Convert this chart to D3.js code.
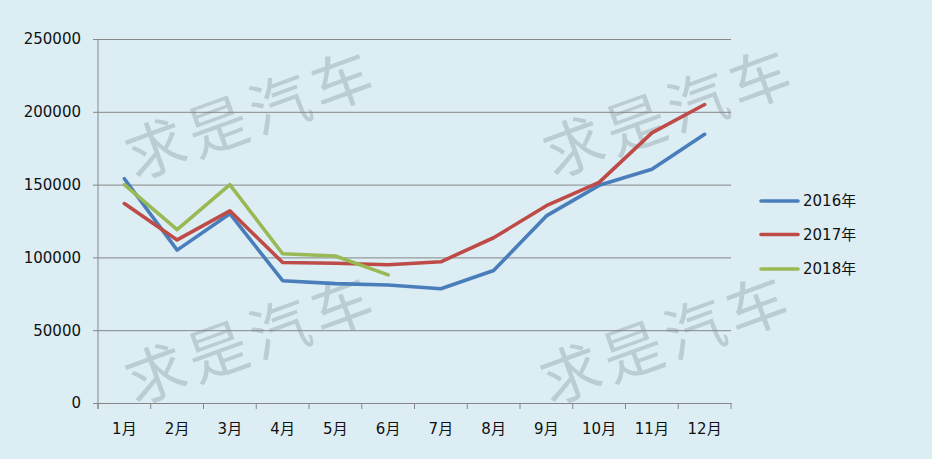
<!DOCTYPE html>
<html>
<head>
<meta charset="utf-8">
<script src="https://cdn.jsdelivr.net/npm/d3@7"></script>
<style>
  html, body { margin: 0; padding: 0; background: #DCEEF4; }
  svg { display: block; }
</style>
</head>
<body>
<svg id="chart" width="932" height="459"></svg>
<script>
const months = ["1月","2月","3月","4月","5月","6月","7月","8月","9月","10月","11月","12月"];
const seriesNames = ["2016年","2017年","2018年"];
const values2016 = [154000, 105000, 130000, 84000, 82000, 81000, 78500, 91000, 128500, 149500, 160500, 184500];
const values2017 = [137000, 112000, 132000, 96500, 96000, 95000, 97000, 113500, 135500, 151500, 185500, 205000];
const values2018 = [150000, 119000, 150000, 102500, 101000, 88000];
const yTicks = [0, 50000, 100000, 150000, 200000, 250000];
const colors = ["#4A7EBB", "#BE4B48", "#98B954"];
const watermarkText = "求是汽车";

const series = [values2016, values2017, values2018].map((v, i) => ({
  name: seriesNames[i], color: colors[i],
  points: v.map((val, j) => ({ m: months[j], v: val }))
}));

const svg = d3.select("#chart");
const font = "'DejaVu Sans', 'Noto Sans CJK SC', sans-serif";
const axisColor = "#868686";

svg.append("rect").attr("width", 932).attr("height", 459).attr("fill", "#DCEEF4");

const x = d3.scaleBand().domain(months).range([98, 731]);
const y = d3.scaleLinear().domain([0, 250000]).range([403, 39]);

// watermarks
const wm = svg.append("g");
[[250, 110], [668, 108], [250, 335], [665, 335]].forEach(([cx, cy]) => {
  wm.append("text")
    .attr("transform", `translate(${cx},${cy}) rotate(-20)`)
    .attr("text-anchor", "middle")
    .attr("dominant-baseline", "central")
    .attr("font-family", "'Noto Sans CJK SC', sans-serif")
    .attr("font-size", 60)
    .attr("font-weight", 400)
    .attr("letter-spacing", 6)
    .attr("fill", "#BCCCD3")
    .text(watermarkText);
});

// gridlines
const grid = svg.append("g")
  .attr("transform", "translate(98,0)")
  .call(d3.axisLeft(y).tickValues(yTicks).tickSize(-(731 - 98)).tickFormat(""));
grid.select(".domain").remove();
grid.selectAll(".tick line").attr("stroke", axisColor).attr("stroke-width", 1);

// y axis
const yAxis = svg.append("g")
  .attr("transform", "translate(98,0)")
  .call(d3.axisLeft(y).tickValues(yTicks).tickSize(5).tickSizeOuter(0).tickPadding(12).tickFormat(d3.format("d")));
yAxis.select(".domain").remove();
yAxis.selectAll(".tick line").attr("stroke", axisColor);
yAxis.selectAll("text").attr("font-family", font).attr("font-size", 15).attr("fill", "#111");
yAxis.append("line").attr("x1", 0).attr("x2", 0).attr("y1", y(250000)).attr("y2", y(0) + 6)
  .attr("stroke", axisColor).attr("stroke-width", 1);

// x axis
const xAxis = svg.append("g")
  .attr("transform", `translate(0,${y(0)})`)
  .call(d3.axisBottom(x).tickSize(0).tickPadding(20));
xAxis.select(".domain").attr("stroke", axisColor).attr("stroke-width", 1);
xAxis.selectAll("text").attr("font-family", font).attr("font-size", 15).attr("fill", "#111");
const bounds = d3.range(months.length + 1).map(i => x.range()[0] + i * x.step());
xAxis.selectAll(".bound").data(bounds).enter().append("line")
  .attr("x1", d => d).attr("x2", d => d).attr("y1", 0).attr("y2", 6)
  .attr("stroke", axisColor).attr("stroke-width", 1);

// lines
const line = d3.line()
  .x(d => x(d.m) + x.bandwidth() / 2)
  .y(d => y(d.v));
svg.append("g").selectAll("path").data(series).enter().append("path")
  .attr("d", d => line(d.points))
  .attr("fill", "none")
  .attr("stroke", d => d.color)
  .attr("stroke-width", 3.6)
  .attr("stroke-linejoin", "round")
  .attr("stroke-linecap", "round");

// legend
const legend = svg.append("g");
const legY = [201, 234.5, 269];
series.forEach((s, i) => {
  legend.append("line").attr("x1", 761).attr("x2", 798).attr("y1", legY[i]).attr("y2", legY[i])
    .attr("stroke", s.color).attr("stroke-width", 3.6).attr("stroke-linecap", "round");
  legend.append("text").attr("x", 803).attr("y", legY[i]).attr("dy", "0.35em")
    .attr("font-family", font).attr("font-size", 15).attr("fill", "#111")
    .text(s.name);
});
</script>
</body>
</html>
